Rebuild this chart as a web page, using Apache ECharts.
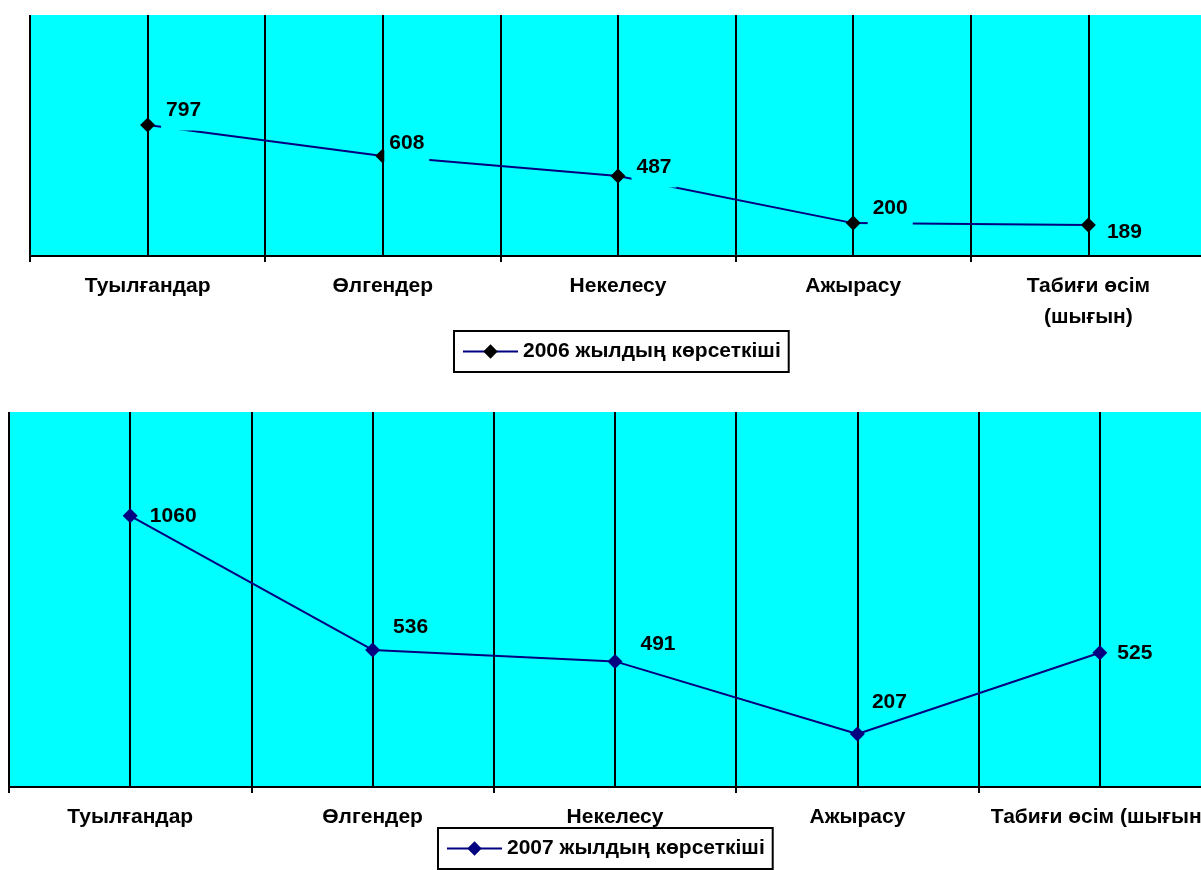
<!DOCTYPE html>
<html>
<head>
<meta charset="utf-8">
<title>Демографиялық көрсеткіштер</title>
<script src="https://cdn.jsdelivr.net/npm/echarts@6/dist/echarts.min.js"></script>
<style>
  html, body { margin: 0; padding: 0; background: #fff; }
  #chart { width: 1201px; height: 870px; }
</style>
</head>
<body>
<div id="chart"></div>
<script>
// Categories shared by both panels
const categories = ['Туылғандар', 'Өлгендер', 'Некелесу', 'Ажырасу', 'Табиғи өсім (шығын)'];

// Series values
const values2006 = [797, 608, 487, 200, 189];
const values2007 = [1060, 536, 491, 207, 525];

// Series names (legend text)
const seriesNames = ['2006 жылдың көрсеткіші', '2007 жылдың көрсеткіші'];

// Value label nudges (text centre relative to the point, px)
const labelNudge2006 = [[36, -22], [24, -20], [36, -16], [37, -22], [36, 0]];
const labelNudge2007 = [[43, 0], [38, -23], [43, -17], [32, -32], [35, 0]];

const FONT = "'Liberation Sans', Arial, sans-serif";
const CYAN = '#00FFFF';
const NAVY = '#000080';
const Y_MAX = 1466;

// Label box padding for the upper panel (its cyan box hides the line beneath)
const PAD_TOP = 2, PAD_BOTTOM = 17;

function buildData(values, nudges, boxed) {
  return values.map((v, i) => {
    const [dx, dy] = nudges[i];
    const shift = boxed ? (PAD_BOTTOM - PAD_TOP) / 2 : 0;
    return {
      value: v,
      label: { offset: [dx, dy + shift] }
    };
  });
}

const labelBase = {
  show: true,
  position: 'inside',
  color: '#000',
  fontFamily: FONT,
  fontWeight: 'bold',
  fontSize: 21
};

const catAxisBase = {
  type: 'category',
  data: categories,
  boundaryGap: true,
  axisLine: { show: true, lineStyle: { color: '#000', width: 2 } },
  axisTick: { show: true, length: 6, lineStyle: { color: '#000', width: 2 } },
  splitLine: { show: false },
  axisLabel: {
    color: '#000',
    fontFamily: FONT,
    fontWeight: 'bold',
    fontSize: 21,
    lineHeight: 31,
    margin: 15,
    interval: 0,
    hideOverlap: false
  }
};

// Hidden helper axis: draws the vertical rules at every category edge and centre
const ruleAxisBase = {
  type: 'value',
  min: 0,
  max: categories.length * 2,
  interval: 1,
  position: 'top',
  axisLine: { show: false },
  axisTick: { show: false },
  axisLabel: { show: false },
  splitLine: { show: true, lineStyle: { color: '#000', width: 2 } }
};

const legendBase = {
  orient: 'horizontal',
  padding: [10, 8, 10, 8],
  borderColor: '#000',
  borderWidth: 2,
  backgroundColor: '#fff',
  itemWidth: 55,
  itemHeight: 18,
  itemGap: 0,
  selectedMode: false,
  textStyle: { color: '#000', fontFamily: FONT, fontWeight: 'bold', fontSize: 21 }
};

const chart = echarts.init(document.getElementById('chart'), null, { renderer: 'canvas' });

chart.setOption({
  animation: false,
  backgroundColor: '#fff',
  grid: [
    { left: 30, top: 15, width: 1176, height: 241, show: true, backgroundColor: CYAN, borderWidth: 0,
      containLabel: false, outerBoundsMode: 'none' },
    { left: 9, top: 412, width: 1212, height: 375, show: true, backgroundColor: CYAN, borderWidth: 0,
      containLabel: false, outerBoundsMode: 'none' }
  ],
  xAxis: [
    Object.assign({}, catAxisBase, {
      gridIndex: 0,
      axisLabel: Object.assign({}, catAxisBase.axisLabel, {
        formatter: (s) => s.replace(' (', '\n(')
      })
    }),
    Object.assign({}, catAxisBase, { gridIndex: 1 }),
    Object.assign({}, ruleAxisBase, { gridIndex: 0 }),
    Object.assign({}, ruleAxisBase, { gridIndex: 1 })
  ],
  yAxis: [
    { type: 'value', gridIndex: 0, min: 0, max: Y_MAX, show: false, splitLine: { show: false } },
    { type: 'value', gridIndex: 1, min: 0, max: Y_MAX, show: false, splitLine: { show: false } }
  ],
  legend: [
    Object.assign({}, legendBase, { left: 454, top: 331, data: [seriesNames[0]] }),
    Object.assign({}, legendBase, { left: 438, top: 828, data: [seriesNames[1]] })
  ],
  series: [
    {
      name: seriesNames[0],
      type: 'line',
      xAxisIndex: 0,
      yAxisIndex: 0,
      symbol: 'diamond',
      symbolSize: 15,
      lineStyle: { color: NAVY, width: 2 },
      itemStyle: { color: '#000' },
      label: Object.assign({}, labelBase, {
        backgroundColor: CYAN,
        padding: [PAD_TOP, 5, PAD_BOTTOM, 5]
      }),
      data: buildData(values2006, labelNudge2006, true)
    },
    {
      name: seriesNames[1],
      type: 'line',
      xAxisIndex: 1,
      yAxisIndex: 1,
      symbol: 'diamond',
      symbolSize: 15,
      lineStyle: { color: NAVY, width: 2 },
      itemStyle: { color: NAVY },
      label: Object.assign({}, labelBase),
      data: buildData(values2007, labelNudge2007, false)
    }
  ]
});
</script>
</body>
</html>
